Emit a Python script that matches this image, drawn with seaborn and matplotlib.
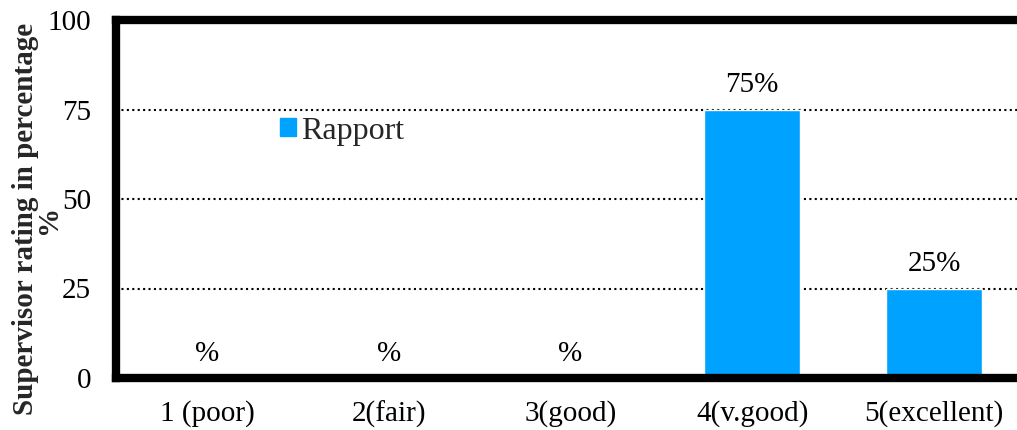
import matplotlib
matplotlib.use("Agg")
import matplotlib.pyplot as plt
import seaborn as sns
import pandas as pd

# Supervisor ratings for "Rapport"
categories = ["1 (poor)", "2(fair)", "3(good)", "4(v.good)", "5(excellent)"]
rapport = [0, 0, 0, 75, 25]
series_name = "Rapport"
y_ticks = [0, 25, 50, 75, 100]

sns.set_theme(style="white")
plt.rcParams["font.family"] = ["Liberation Serif", "DejaVu Serif"]

df = pd.DataFrame({"rating": categories, "pct": rapport, "series": series_name})

fig = plt.figure(figsize=(10.17, 4.30), dpi=100)
ax = fig.add_axes([116 / 1017, 1 - 378 / 430, (1025 - 116) / 1017, (378 - 20) / 430])

bar_color = "#00A2FF"
sns.barplot(data=df, x="rating", y="pct", hue="series", palette=[bar_color],
            width=0.53, ax=ax, legend=False, saturation=1, zorder=3)

ax.set_xlim(-0.5, 4.5)
ax.set_ylim(0, 100)
ax.set_yticks(y_ticks)
ax.set_yticklabels([str(t) for t in y_ticks])

# dotted horizontal gridlines
for t in y_ticks[1:-1]:
    ax.axhline(t, color="black", lw=1.5, linestyle=(0, (1, 1.6)), zorder=1)

for side in ["left", "top", "bottom", "right"]:
    ax.spines[side].set_visible(True)
    ax.spines[side].set_color("black")
    ax.spines[side].set_linewidth(6)
    ax.spines[side].set_zorder(5)

fs = 21
ax.tick_params(axis="both", length=0, labelsize=fs, colors="black")
ax.tick_params(axis="y", pad=18)
ax.tick_params(axis="x", pad=16)
ax.set_xlabel("")
ax.set_ylabel("")

# value labels above bars
for cont in ax.containers:
    labels = [f"{v}%" if v else "%" for v in rapport]
    ax.bar_label(cont, labels=labels, padding=8, fontsize=fs, color="black")

# legend
handle = plt.Rectangle((0, 0), 1, 1, color=bar_color)
ax.legend([handle], [series_name], loc="center left",
          bbox_to_anchor=((280 - 116) / 909, (378 - 131) / 358),
          frameon=False, fontsize=23, handlelength=0.5, handleheight=0.5,
          handletextpad=0.15, borderaxespad=0, borderpad=0)

# y-axis title, wrapped onto two lines
fig.text(37 / 1017, 1 - 219 / 430, "Supervisor rating in percentage\n%",
         rotation=90, fontsize=fs, fontweight="bold", ha="center", va="center",
         multialignment="center", linespacing=0.85)

fig.savefig("out.png", dpi=100)
